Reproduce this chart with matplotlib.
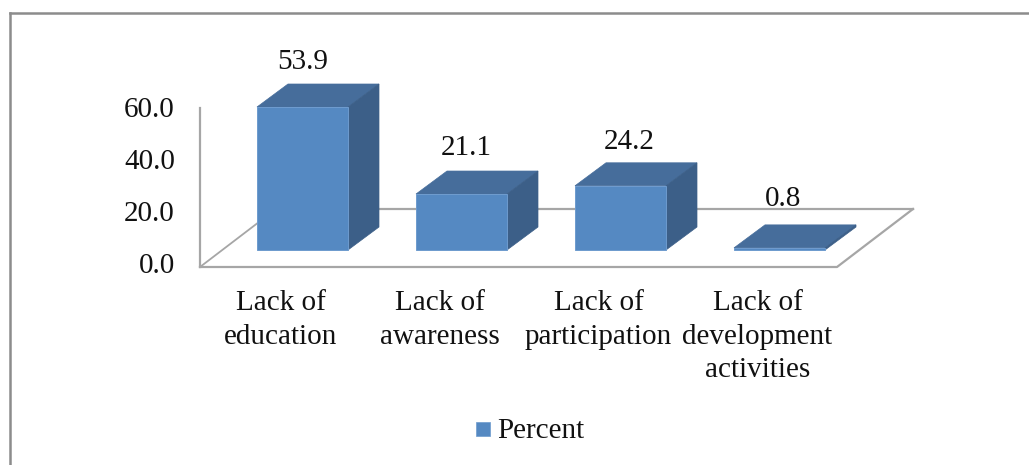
import matplotlib
matplotlib.use('agg')
import matplotlib.pyplot as plt
from matplotlib.patches import Polygon

# Values.
categories = ["Lack of\neducation", "Lack of\nawareness",
              "Lack of\nparticipation", "Lack of\ndevelopment\nactivities"]
percent = [53.9, 21.1, 24.2, 0.8]
value_labels = ["53.9", "21.1", "24.2", "0.8"]
y_ticks = [0, 20, 40, 60]
y_tick_labels = ["0.0", "20.0", "40.0", "60.0"]
legend_label = "Percent"

FRONT = "#5589C2"
TOP = "#466D9B"
SIDE = "#3C5F88"
GRID = "#A6A6A6"
BORDER = "#8C8C8C"
TEXT = "#111111"
FS = 21

W, H = 1029, 465
PX_Y = 2.653   # pixels per percent
PX_X = 159.0   # pixels per category slot
X0, Y0 = 200, 267   # pixel position of the front axis corner

plt.rcParams['font.family'] = ['Liberation Serif', 'DejaVu Serif']
fig = plt.figure(figsize=(W / 100, H / 100), dpi=100)
ax = fig.add_axes([0, 0, 1, 1])
ax.set_xlim(-X0 / PX_X, (W - X0) / PX_X)
ax.set_ylim(-(H - Y0) / PX_Y, Y0 / PX_Y)
ax.axis('off')


def dx(px):
    return px / PX_X


def dy(px):
    return px / PX_Y


# Floor and walls of the oblique box.
depth_x, depth_y = dx(76), dy(58)
floor_w = dx(637)
ax.plot([0, 0], [0, 60], color=GRID, lw=1.6, zorder=1)
ax.plot([0, floor_w, floor_w + depth_x], [0, 0, depth_y], color=GRID, lw=1.6, zorder=1)
ax.plot([0, depth_x], [0, depth_y], color=GRID, lw=1.3, zorder=1)
ax.plot([depth_x, floor_w + depth_x], [depth_y, depth_y], color=GRID, lw=1.6, zorder=1)

# Label nudges in pixels, the original labels are not quite centred.
label_dx = [0, 5, 9, 4]
label_dy = [22, 23, 21, 26]

# Bars with their top and side faces.
bar_w = dx(91)
bar_dx, bar_dy = dx(31), dy(23)
base = dy(17)
for i, v in enumerate(percent):
    x = dx(57) + i
    top = base + v
    ax.add_patch(Polygon([(x, top), (x + bar_dx, top + bar_dy),
                          (x + bar_w + bar_dx, top + bar_dy), (x + bar_w, top)],
                         fc=TOP, ec=TOP, lw=0.5, zorder=3))
    ax.add_patch(Polygon([(x + bar_w, base), (x + bar_w + bar_dx, base + bar_dy),
                          (x + bar_w + bar_dx, top + bar_dy), (x + bar_w, top)],
                         fc=SIDE, ec=SIDE, lw=0.5, zorder=3))
    ax.add_patch(Polygon([(x, base), (x + bar_w, base), (x + bar_w, top), (x, top)],
                         fc=FRONT, ec="#6E9BCE", lw=0.7, zorder=4))
    ax.text(x + bar_w / 2 + dx(label_dx[i]), top + bar_dy + dy(label_dy[i]),
            value_labels[i], ha='center', va='center', fontsize=FS, color=TEXT)
    ax.text(x + bar_w / 2 - dx(22), -dy(23), categories[i], ha='center', va='top',
            fontsize=FS, color=TEXT, linespacing=1.38)

for t, lab in zip(y_ticks, y_tick_labels):
    ax.text(-dx(25), t * 0.98 + dy(1), lab, ha='right', va='center',
            fontsize=FS, color=TEXT)

# Legend, placed by hand like the original.
ax.add_patch(Polygon([(dx(276), -dy(155)), (dx(290), -dy(155)),
                      (dx(290), -dy(169)), (dx(276), -dy(169))],
                     fc=FRONT, ec="#6E9BCE", lw=0.5, zorder=4))
ax.text(dx(297), -dy(164), legend_label, ha='left', va='center',
        fontsize=FS, color=TEXT)

# Outer frame, open at right and bottom.
fig.add_artist(plt.Line2D([10 / W, 10 / W], [0, 1 - 13 / H], color=BORDER, lw=1.8))
fig.add_artist(plt.Line2D([10 / W, 1], [1 - 13 / H, 1 - 13 / H], color=BORDER, lw=1.8))

fig.savefig('out.png', dpi=100, facecolor='w')
plt.close(fig)
